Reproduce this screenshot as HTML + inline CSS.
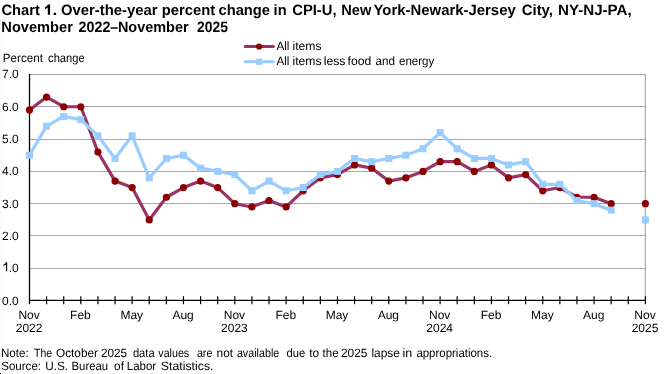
<!DOCTYPE html>
<html><head><meta charset="utf-8"><style>
html,body{margin:0;padding:0;background:#fff;width:668px;height:374px;overflow:hidden}
svg{position:absolute;left:0;top:0;will-change:transform}
text{font-family:"Liberation Sans",sans-serif;fill:#000;text-rendering:geometricPrecision}
.t{font-size:15px;font-weight:bold}
.a{font-size:12px}
</style></head><body>
<svg width="668" height="374" viewBox="0 0 668 374">
<line x1="29.50" y1="74.5" x2="645.40" y2="74.5" stroke="#A8A8A8" stroke-width="1"/>
<line x1="29.50" y1="106.5" x2="645.40" y2="106.5" stroke="#A8A8A8" stroke-width="1"/>
<line x1="29.50" y1="139.5" x2="645.40" y2="139.5" stroke="#A8A8A8" stroke-width="1"/>
<line x1="29.50" y1="171.5" x2="645.40" y2="171.5" stroke="#A8A8A8" stroke-width="1"/>
<line x1="29.50" y1="203.5" x2="645.40" y2="203.5" stroke="#A8A8A8" stroke-width="1"/>
<line x1="29.50" y1="235.5" x2="645.40" y2="235.5" stroke="#A8A8A8" stroke-width="1"/>
<line x1="29.50" y1="268.5" x2="645.40" y2="268.5" stroke="#A8A8A8" stroke-width="1"/>
<line x1="645.40" y1="74.40" x2="645.40" y2="300.70" stroke="#A8A8A8" stroke-width="1.2"/>
<line x1="29.50" y1="73.90" x2="29.50" y2="304.2" stroke="#000" stroke-width="1.3"/>
<line x1="29.50" y1="300.40" x2="645.90" y2="300.40" stroke="#000" stroke-width="1.4"/>
<line x1="46.61" y1="296.2" x2="46.61" y2="304.2" stroke="#000" stroke-width="1.2"/>
<line x1="63.72" y1="296.2" x2="63.72" y2="304.2" stroke="#000" stroke-width="1.2"/>
<line x1="80.82" y1="296.2" x2="80.82" y2="304.2" stroke="#000" stroke-width="1.2"/>
<line x1="97.93" y1="296.2" x2="97.93" y2="304.2" stroke="#000" stroke-width="1.2"/>
<line x1="115.04" y1="296.2" x2="115.04" y2="304.2" stroke="#000" stroke-width="1.2"/>
<line x1="132.15" y1="296.2" x2="132.15" y2="304.2" stroke="#000" stroke-width="1.2"/>
<line x1="149.26" y1="296.2" x2="149.26" y2="304.2" stroke="#000" stroke-width="1.2"/>
<line x1="166.37" y1="296.2" x2="166.37" y2="304.2" stroke="#000" stroke-width="1.2"/>
<line x1="183.47" y1="296.2" x2="183.47" y2="304.2" stroke="#000" stroke-width="1.2"/>
<line x1="200.58" y1="296.2" x2="200.58" y2="304.2" stroke="#000" stroke-width="1.2"/>
<line x1="217.69" y1="296.2" x2="217.69" y2="304.2" stroke="#000" stroke-width="1.2"/>
<line x1="234.80" y1="296.2" x2="234.80" y2="304.2" stroke="#000" stroke-width="1.2"/>
<line x1="251.91" y1="296.2" x2="251.91" y2="304.2" stroke="#000" stroke-width="1.2"/>
<line x1="269.02" y1="296.2" x2="269.02" y2="304.2" stroke="#000" stroke-width="1.2"/>
<line x1="286.12" y1="296.2" x2="286.12" y2="304.2" stroke="#000" stroke-width="1.2"/>
<line x1="303.23" y1="296.2" x2="303.23" y2="304.2" stroke="#000" stroke-width="1.2"/>
<line x1="320.34" y1="296.2" x2="320.34" y2="304.2" stroke="#000" stroke-width="1.2"/>
<line x1="337.45" y1="296.2" x2="337.45" y2="304.2" stroke="#000" stroke-width="1.2"/>
<line x1="354.56" y1="296.2" x2="354.56" y2="304.2" stroke="#000" stroke-width="1.2"/>
<line x1="371.67" y1="296.2" x2="371.67" y2="304.2" stroke="#000" stroke-width="1.2"/>
<line x1="388.77" y1="296.2" x2="388.77" y2="304.2" stroke="#000" stroke-width="1.2"/>
<line x1="405.88" y1="296.2" x2="405.88" y2="304.2" stroke="#000" stroke-width="1.2"/>
<line x1="422.99" y1="296.2" x2="422.99" y2="304.2" stroke="#000" stroke-width="1.2"/>
<line x1="440.10" y1="296.2" x2="440.10" y2="304.2" stroke="#000" stroke-width="1.2"/>
<line x1="457.21" y1="296.2" x2="457.21" y2="304.2" stroke="#000" stroke-width="1.2"/>
<line x1="474.32" y1="296.2" x2="474.32" y2="304.2" stroke="#000" stroke-width="1.2"/>
<line x1="491.42" y1="296.2" x2="491.42" y2="304.2" stroke="#000" stroke-width="1.2"/>
<line x1="508.53" y1="296.2" x2="508.53" y2="304.2" stroke="#000" stroke-width="1.2"/>
<line x1="525.64" y1="296.2" x2="525.64" y2="304.2" stroke="#000" stroke-width="1.2"/>
<line x1="542.75" y1="296.2" x2="542.75" y2="304.2" stroke="#000" stroke-width="1.2"/>
<line x1="559.86" y1="296.2" x2="559.86" y2="304.2" stroke="#000" stroke-width="1.2"/>
<line x1="576.97" y1="296.2" x2="576.97" y2="304.2" stroke="#000" stroke-width="1.2"/>
<line x1="594.08" y1="296.2" x2="594.08" y2="304.2" stroke="#000" stroke-width="1.2"/>
<line x1="611.18" y1="296.2" x2="611.18" y2="304.2" stroke="#000" stroke-width="1.2"/>
<line x1="628.29" y1="296.2" x2="628.29" y2="304.2" stroke="#000" stroke-width="1.2"/>
<line x1="645.40" y1="296.2" x2="645.40" y2="304.2" stroke="#000" stroke-width="1.2"/>
<polyline fill="none" stroke="#993366" stroke-width="3.2" stroke-linejoin="round" points="29.50,109.96 46.61,97.03 63.72,106.73 80.82,106.73 97.93,151.99 115.04,181.08 132.15,187.55 149.26,219.88 166.37,197.25 183.47,187.55 200.58,181.08 217.69,187.55 234.80,203.71 251.91,206.95 269.02,200.48 286.12,206.95 303.23,190.78 320.34,177.85 337.45,174.62 354.56,164.92 371.67,168.15 388.77,181.08 405.88,177.85 422.99,171.39 440.10,161.69 457.21,161.69 474.32,171.39 491.42,164.92 508.53,177.85 525.64,174.62 542.75,190.78 559.86,187.55 576.97,197.25 594.08,197.25 611.18,203.71"/>
<circle cx="29.50" cy="109.96" r="3.6" fill="#8B0000"/>
<circle cx="46.61" cy="97.03" r="3.6" fill="#8B0000"/>
<circle cx="63.72" cy="106.73" r="3.6" fill="#8B0000"/>
<circle cx="80.82" cy="106.73" r="3.6" fill="#8B0000"/>
<circle cx="97.93" cy="151.99" r="3.6" fill="#8B0000"/>
<circle cx="115.04" cy="181.08" r="3.6" fill="#8B0000"/>
<circle cx="132.15" cy="187.55" r="3.6" fill="#8B0000"/>
<circle cx="149.26" cy="219.88" r="3.6" fill="#8B0000"/>
<circle cx="166.37" cy="197.25" r="3.6" fill="#8B0000"/>
<circle cx="183.47" cy="187.55" r="3.6" fill="#8B0000"/>
<circle cx="200.58" cy="181.08" r="3.6" fill="#8B0000"/>
<circle cx="217.69" cy="187.55" r="3.6" fill="#8B0000"/>
<circle cx="234.80" cy="203.71" r="3.6" fill="#8B0000"/>
<circle cx="251.91" cy="206.95" r="3.6" fill="#8B0000"/>
<circle cx="269.02" cy="200.48" r="3.6" fill="#8B0000"/>
<circle cx="286.12" cy="206.95" r="3.6" fill="#8B0000"/>
<circle cx="303.23" cy="190.78" r="3.6" fill="#8B0000"/>
<circle cx="320.34" cy="177.85" r="3.6" fill="#8B0000"/>
<circle cx="337.45" cy="174.62" r="3.6" fill="#8B0000"/>
<circle cx="354.56" cy="164.92" r="3.6" fill="#8B0000"/>
<circle cx="371.67" cy="168.15" r="3.6" fill="#8B0000"/>
<circle cx="388.77" cy="181.08" r="3.6" fill="#8B0000"/>
<circle cx="405.88" cy="177.85" r="3.6" fill="#8B0000"/>
<circle cx="422.99" cy="171.39" r="3.6" fill="#8B0000"/>
<circle cx="440.10" cy="161.69" r="3.6" fill="#8B0000"/>
<circle cx="457.21" cy="161.69" r="3.6" fill="#8B0000"/>
<circle cx="474.32" cy="171.39" r="3.6" fill="#8B0000"/>
<circle cx="491.42" cy="164.92" r="3.6" fill="#8B0000"/>
<circle cx="508.53" cy="177.85" r="3.6" fill="#8B0000"/>
<circle cx="525.64" cy="174.62" r="3.6" fill="#8B0000"/>
<circle cx="542.75" cy="190.78" r="3.6" fill="#8B0000"/>
<circle cx="559.86" cy="187.55" r="3.6" fill="#8B0000"/>
<circle cx="576.97" cy="197.25" r="3.6" fill="#8B0000"/>
<circle cx="594.08" cy="197.25" r="3.6" fill="#8B0000"/>
<circle cx="611.18" cy="203.71" r="3.6" fill="#8B0000"/>
<circle cx="645.40" cy="203.71" r="3.6" fill="#8B0000"/>
<polyline fill="none" stroke="#99CCFF" stroke-width="3.2" stroke-linejoin="round" points="29.50,155.22 46.61,126.13 63.72,116.43 80.82,119.66 97.93,135.82 115.04,158.45 132.15,135.82 149.26,177.85 166.37,158.45 183.47,155.22 200.58,168.15 217.69,171.39 234.80,174.62 251.91,190.78 269.02,181.08 286.12,190.78 303.23,187.55 320.34,174.62 337.45,171.39 354.56,158.45 371.67,161.69 388.77,158.45 405.88,155.22 422.99,148.76 440.10,132.59 457.21,148.76 474.32,158.45 491.42,158.45 508.53,164.92 525.64,161.69 542.75,184.32 559.86,184.32 576.97,200.48 594.08,203.71 611.18,210.18"/>
<rect x="26.00" y="151.72" width="7" height="7" fill="#99CCFF"/>
<rect x="43.11" y="122.63" width="7" height="7" fill="#99CCFF"/>
<rect x="60.22" y="112.93" width="7" height="7" fill="#99CCFF"/>
<rect x="77.32" y="116.16" width="7" height="7" fill="#99CCFF"/>
<rect x="94.43" y="132.32" width="7" height="7" fill="#99CCFF"/>
<rect x="111.54" y="154.95" width="7" height="7" fill="#99CCFF"/>
<rect x="128.65" y="132.32" width="7" height="7" fill="#99CCFF"/>
<rect x="145.76" y="174.35" width="7" height="7" fill="#99CCFF"/>
<rect x="162.87" y="154.95" width="7" height="7" fill="#99CCFF"/>
<rect x="179.97" y="151.72" width="7" height="7" fill="#99CCFF"/>
<rect x="197.08" y="164.65" width="7" height="7" fill="#99CCFF"/>
<rect x="214.19" y="167.89" width="7" height="7" fill="#99CCFF"/>
<rect x="231.30" y="171.12" width="7" height="7" fill="#99CCFF"/>
<rect x="248.41" y="187.28" width="7" height="7" fill="#99CCFF"/>
<rect x="265.52" y="177.58" width="7" height="7" fill="#99CCFF"/>
<rect x="282.62" y="187.28" width="7" height="7" fill="#99CCFF"/>
<rect x="299.73" y="184.05" width="7" height="7" fill="#99CCFF"/>
<rect x="316.84" y="171.12" width="7" height="7" fill="#99CCFF"/>
<rect x="333.95" y="167.89" width="7" height="7" fill="#99CCFF"/>
<rect x="351.06" y="154.95" width="7" height="7" fill="#99CCFF"/>
<rect x="368.17" y="158.19" width="7" height="7" fill="#99CCFF"/>
<rect x="385.27" y="154.95" width="7" height="7" fill="#99CCFF"/>
<rect x="402.38" y="151.72" width="7" height="7" fill="#99CCFF"/>
<rect x="419.49" y="145.26" width="7" height="7" fill="#99CCFF"/>
<rect x="436.60" y="129.09" width="7" height="7" fill="#99CCFF"/>
<rect x="453.71" y="145.26" width="7" height="7" fill="#99CCFF"/>
<rect x="470.82" y="154.95" width="7" height="7" fill="#99CCFF"/>
<rect x="487.92" y="154.95" width="7" height="7" fill="#99CCFF"/>
<rect x="505.03" y="161.42" width="7" height="7" fill="#99CCFF"/>
<rect x="522.14" y="158.19" width="7" height="7" fill="#99CCFF"/>
<rect x="539.25" y="180.82" width="7" height="7" fill="#99CCFF"/>
<rect x="556.36" y="180.82" width="7" height="7" fill="#99CCFF"/>
<rect x="573.47" y="196.98" width="7" height="7" fill="#99CCFF"/>
<rect x="590.58" y="200.21" width="7" height="7" fill="#99CCFF"/>
<rect x="607.68" y="206.68" width="7" height="7" fill="#99CCFF"/>
<rect x="641.90" y="216.38" width="7" height="7" fill="#99CCFF"/>
<rect x="0" y="0" width="1" height="374" fill="#FAFAFA"/>
<rect x="0" y="373" width="1" height="1" fill="#000"/>
<path d="M47.9,4.4 L50.1,4.4 L50.1,14.8 L47.8,14.8 L47.8,7.6 C47.0,8.3 46.0,8.8 45.0,9.1 L45.0,7.2 C46.2,6.7 47.3,5.7 47.9,4.4 Z" fill="#000"/>
<path d="M6.0,262.3 L7.15,262.3 L7.15,271.3 L6.0,271.3 L6.0,264.5 C5.3,265.1 4.3,265.7 3.3,266.0 L3.3,264.9 C4.5,264.3 5.5,263.4 6.0,262.3 Z" fill="#000"/>
<line x1="245.2" y1="46.5" x2="273.3" y2="46.5" stroke="#993366" stroke-width="3" stroke-linecap="round"/>
<circle cx="259.1" cy="46.5" r="3.1" fill="#8B0000"/>
<line x1="245.2" y1="61.7" x2="273.3" y2="61.7" stroke="#99CCFF" stroke-width="3" stroke-linecap="round"/>
<rect x="256.1" y="58.6" width="6.2" height="6.2" fill="#99CCFF"/>
<g class="t" transform="translate(0,15) scale(1,1.0) translate(0,-15)"><text x="1.52" y="15" textLength="38.35" lengthAdjust="spacingAndGlyphs">Chart</text><text x="52.45" y="15" textLength="4.80" lengthAdjust="spacingAndGlyphs">.</text><text x="61.01" y="15" textLength="96.53" lengthAdjust="spacingAndGlyphs">Over-the-year</text><text x="161.72" y="15" textLength="53.37" lengthAdjust="spacingAndGlyphs">percent</text><text x="218.52" y="15" textLength="51.49" lengthAdjust="spacingAndGlyphs">change</text><text x="273.62" y="15" textLength="13.01" lengthAdjust="spacingAndGlyphs">in</text><text x="292.22" y="15" textLength="44.27" lengthAdjust="spacingAndGlyphs">CPI-U,</text><text x="341.23" y="15" textLength="30.02" lengthAdjust="spacingAndGlyphs">New</text><text x="373.51" y="15" textLength="142.23" lengthAdjust="spacingAndGlyphs">York-Newark-Jersey</text><text x="521.70" y="15" textLength="31.30" lengthAdjust="spacingAndGlyphs">City,</text><text x="557.99" y="15" textLength="73.70" lengthAdjust="spacingAndGlyphs">NY-NJ-PA,</text></g>
<g class="t" transform="translate(0,32) scale(1,1.0) translate(0,-32)"><text x="1.32" y="32" textLength="71.53" lengthAdjust="spacingAndGlyphs">November</text><text x="78.60" y="32" textLength="39.68" lengthAdjust="spacingAndGlyphs">2022–</text><text x="117.94" y="32" textLength="70.61" lengthAdjust="spacingAndGlyphs">November</text><text x="197.10" y="32" textLength="30.85" lengthAdjust="spacingAndGlyphs">2025</text></g>
<g class="a"><text x="2.83" y="62" textLength="40.12" lengthAdjust="spacingAndGlyphs">Percent</text><text x="48.10" y="62" textLength="36.55" lengthAdjust="spacingAndGlyphs">change</text></g>
<g class="a"><text x="276.40" y="49.5" textLength="13.04" lengthAdjust="spacingAndGlyphs">All</text><text x="292.49" y="49.5" textLength="29.10" lengthAdjust="spacingAndGlyphs">items</text></g>
<g class="a"><text x="276.40" y="65.1" textLength="13.04" lengthAdjust="spacingAndGlyphs">All</text><text x="292.49" y="65.1" textLength="29.10" lengthAdjust="spacingAndGlyphs">items</text><text x="323.68" y="65.1" textLength="21.77" lengthAdjust="spacingAndGlyphs">less</text><text x="347.60" y="65.1" textLength="23.77" lengthAdjust="spacingAndGlyphs">food</text><text x="375.40" y="65.1" textLength="19.50" lengthAdjust="spacingAndGlyphs">and</text><text x="399.00" y="65.1" textLength="35.22" lengthAdjust="spacingAndGlyphs">energy</text></g>
<g class="a"><text x="0.93" y="357" textLength="27.73" lengthAdjust="spacingAndGlyphs">Note:</text><text x="34.10" y="357" textLength="18.00" lengthAdjust="spacingAndGlyphs">The</text><text x="56.02" y="357" textLength="41.96" lengthAdjust="spacingAndGlyphs">October</text><text x="100.92" y="357" textLength="26.17" lengthAdjust="spacingAndGlyphs">2025</text><text x="132.90" y="357" textLength="21.73" lengthAdjust="spacingAndGlyphs">data</text><text x="158.30" y="357" textLength="30.91" lengthAdjust="spacingAndGlyphs">values</text><text x="196.90" y="357" textLength="15.51" lengthAdjust="spacingAndGlyphs">are</text><text x="216.61" y="357" textLength="16.47" lengthAdjust="spacingAndGlyphs">not</text><text x="236.90" y="357" textLength="42.34" lengthAdjust="spacingAndGlyphs">available</text><text x="286.40" y="357" textLength="18.77" lengthAdjust="spacingAndGlyphs">due</text><text x="309.30" y="357" textLength="9.90" lengthAdjust="spacingAndGlyphs">to</text><text x="322.60" y="357" textLength="15.96" lengthAdjust="spacingAndGlyphs">the</text><text x="340.91" y="357" textLength="26.49" lengthAdjust="spacingAndGlyphs">2025</text><text x="371.41" y="357" textLength="28.48" lengthAdjust="spacingAndGlyphs">lapse</text><text x="402.56" y="357" textLength="9.69" lengthAdjust="spacingAndGlyphs">in</text><text x="416.40" y="357" textLength="75.73" lengthAdjust="spacingAndGlyphs">appropriations.</text></g>
<g class="a"><text x="1.24" y="370" textLength="39.77" lengthAdjust="spacingAndGlyphs">Source:</text><text x="45.32" y="370" textLength="22.79" lengthAdjust="spacingAndGlyphs">U.S.</text><text x="71.55" y="370" textLength="36.61" lengthAdjust="spacingAndGlyphs">Bureau</text><text x="114.10" y="370" textLength="9.92" lengthAdjust="spacingAndGlyphs">of</text><text x="126.84" y="370" textLength="29.33" lengthAdjust="spacingAndGlyphs">Labor</text><text x="160.88" y="370" textLength="52.62" lengthAdjust="spacingAndGlyphs">Statistics.</text></g>
<g class="a">
<text x="18.8" y="304.70" text-anchor="end">0.0</text>
<text x="18.8" y="272.37" text-anchor="end">.0</text>
<text x="18.8" y="240.04" text-anchor="end">2.0</text>
<text x="18.8" y="207.71" text-anchor="end">3.0</text>
<text x="18.8" y="175.39" text-anchor="end">4.0</text>
<text x="18.8" y="143.06" text-anchor="end">5.0</text>
<text x="18.8" y="110.73" text-anchor="end">6.0</text>
<text x="18.8" y="78.40" text-anchor="end">7.0</text>
<text x="29.10" y="319" text-anchor="middle">Nov</text>
<text x="29.10" y="332" text-anchor="middle">2022</text>
<text x="80.42" y="319" text-anchor="middle">Feb</text>
<text x="131.75" y="319" text-anchor="middle">May</text>
<text x="183.07" y="319" text-anchor="middle">Aug</text>
<text x="234.40" y="319" text-anchor="middle">Nov</text>
<text x="234.40" y="332" text-anchor="middle">2023</text>
<text x="285.73" y="319" text-anchor="middle">Feb</text>
<text x="337.05" y="319" text-anchor="middle">May</text>
<text x="388.38" y="319" text-anchor="middle">Aug</text>
<text x="439.70" y="319" text-anchor="middle">Nov</text>
<text x="439.70" y="332" text-anchor="middle">2024</text>
<text x="491.02" y="319" text-anchor="middle">Feb</text>
<text x="542.35" y="319" text-anchor="middle">May</text>
<text x="593.68" y="319" text-anchor="middle">Aug</text>
<text x="645.00" y="319" text-anchor="middle">Nov</text>
<text x="645.00" y="332" text-anchor="middle">2025</text>
</g>
</svg>
</body></html>
